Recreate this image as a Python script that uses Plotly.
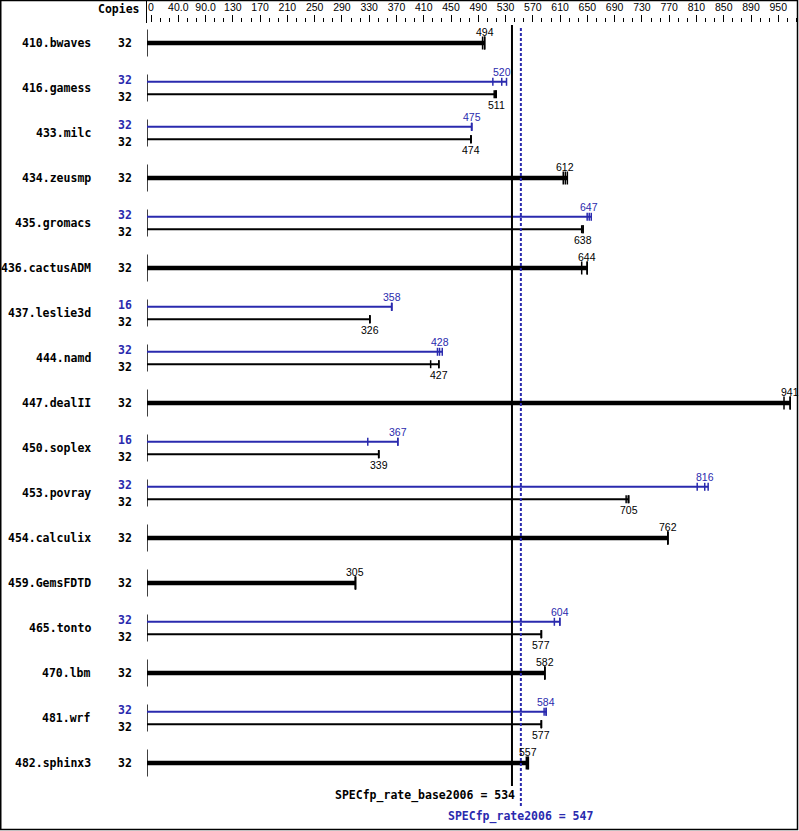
import plotly.graph_objects as go

# ---------------- data ----------------
benchmarks = ["410.bwaves", "416.gamess", "433.milc", "434.zeusmp", "435.gromacs",
              "436.cactusADM", "437.leslie3d", "444.namd", "447.dealII", "450.soplex",
              "453.povray", "454.calculix", "459.GemsFDTD", "465.tonto", "470.lbm",
              "481.wrf", "482.sphinx3"]
base_copies = [32, 32, 32, 32, 32, 32, 32, 32, 32, 32, 32, 32, 32, 32, 32, 32, 32]
peak_copies = [None, 32, 32, None, 32, None, 16, 32, None, 16, 32, None, None, 32, None, 32, None]
base_ratio = [494, 511, 474, 612, 638, 644, 326, 427, 941, 339, 705, 762, 305, 577, 582, 577, 557]
peak_ratio = [None, 520, 475, None, 647, None, 358, 428, None, 367, 816, None, None, 604, None, 584, None]
base_runs = [[491, 494, 494], [508, 510, 511], [474, 474, 474], [609, 612, 615],
             [636, 638, 638], [636, 644, 644], [326, 326, 326], [415, 427, 427],
             [932, 941, 941], [339, 339, 339], [701, 704, 705], [762, 762, 762],
             [305, 305, 305], [577, 577, 577], [582, 582, 582], [577, 577, 577],
             [555, 557, 558]]
peak_runs = [None, [506, 519, 526], [475, 475, 475], None, [644, 647, 650], None,
             [358, 358, 358], [425, 428, 432], None, [323, 367, 367], [805, 816, 821],
             None, None, [596, 604, 604], None, [581, 584, 584], None]
tick_values = [5.9, 45.8, 85.7, 125.6, 165.5, 205.4, 245.3, 285.2, 325.1, 365.0, 404.9,
               444.8, 484.7, 524.6, 564.5, 604.4, 644.3, 684.2, 724.1, 764.0, 803.9,
               843.8, 883.7, 923.6]
tick_labels = ["0", "40.0", "90.0", "130", "170", "210", "250", "290", "330", "370", "410",
               "450", "490", "530", "570", "610", "650", "690", "730", "770", "810",
               "850", "890", "950"]
base_score = 534
peak_score = 547
base_metric = "SPECfp_rate_base2006"
peak_metric = "SPECfp_rate2006"

# ---------------- layout geometry ----------------
W, H = 799, 831
L, R, T, B = 147, 2, 23, 1
PLOT_W = W - L - R
PLOT_H = H - T - B
ROW0_PX = 43      # pixel centre of first row
ROW_PX = 45       # pixels per row
XMAX = 951.0


def ypx(py):
    """pixel y -> data y (row units)"""
    return (py - ROW0_PX) / ROW_PX


def px_x(px):
    return (px - L) / PLOT_W


def px_y(py):
    return 1 - (py - T) / PLOT_H


BLUE = "#2a2aae"
BLACK = "#000000"
OFF = 6.2 / ROW_PX

fig = go.Figure()

thick_x, thick_y = [], []
thick_tx, thick_ty = [], []
base_x, base_y, base_tx, base_ty = [], [], [], []
peak_x, peak_y, peak_tx, peak_ty = [], [], [], []
sep_x, sep_y = [], []
annotations = []

mono = "DejaVu Sans Mono"
num_font = "Liberation Sans"

for i, name in enumerate(benchmarks):
    sep_x += [0, 0, None]
    sep_y += [i - 13.5 / ROW_PX, i + 13.5 / ROW_PX, None]
    annotations.append(dict(x=px_x(93), xref="paper", y=i, yref="y", text="<b>%s</b>" % name,
                            xanchor="right", yanchor="middle", showarrow=False,
                            font=dict(family=mono, size=11.5, color=BLACK)))
    if peak_ratio[i] is None:
        runs = base_runs[i]
        thick_x += [0, max(runs), None]
        thick_y += [i, i, None]
        for r in runs:
            thick_tx += [r, r, None]
            thick_ty += [i - 6.5 / ROW_PX, i + 6.5 / ROW_PX, None]
        annotations.append(dict(x=px_x(125), xref="paper", y=i, yref="y",
                                text="<b>%d</b>" % base_copies[i], xanchor="center",
                                yanchor="middle", showarrow=False,
                                font=dict(family=mono, size=11.5, color=BLACK)))
        annotations.append(dict(x=base_ratio[i], xref="x", y=i, yref="y", text=str(base_ratio[i]),
                                xanchor="center", yanchor="middle", yshift=11, showarrow=False,
                                font=dict(family=num_font, size=10.5, color=BLACK)))
    else:
        yp = i - OFF
        yb = i + OFF
        pr = peak_runs[i]
        br = base_runs[i]
        peak_x += [0, max(pr), None]
        peak_y += [yp, yp, None]
        base_x += [0, max(br), None]
        base_y += [yb, yb, None]
        for r in pr:
            peak_tx += [r, r, None]
            peak_ty += [yp - 4 / ROW_PX, yp + 4 / ROW_PX, None]
        for r in br:
            base_tx += [r, r, None]
            base_ty += [yb - 4 / ROW_PX, yb + 4 / ROW_PX, None]
        annotations.append(dict(x=px_x(125), xref="paper", y=yp, yref="y",
                                text="<b>%d</b>" % peak_copies[i], xanchor="center",
                                yanchor="middle", yshift=2, showarrow=False,
                                font=dict(family=mono, size=11.5, color=BLUE)))
        annotations.append(dict(x=px_x(125), xref="paper", y=yb, yref="y",
                                text="<b>%d</b>" % base_copies[i], xanchor="center",
                                yanchor="middle", yshift=-3, showarrow=False,
                                font=dict(family=mono, size=11.5, color=BLACK)))
        annotations.append(dict(x=peak_ratio[i], xref="x", y=yp, yref="y", text=str(peak_ratio[i]),
                                xanchor="center", yanchor="middle", yshift=10, showarrow=False,
                                font=dict(family=num_font, size=10.5, color=BLUE)))
        annotations.append(dict(x=base_ratio[i], xref="x", y=yb, yref="y", text=str(base_ratio[i]),
                                xanchor="center", yanchor="middle", yshift=-11, showarrow=False,
                                font=dict(family=num_font, size=10.5, color=BLACK)))

line_traces = [
    (sep_x, sep_y, BLACK, 1.5),
    (thick_x, thick_y, BLACK, 4.5),
    (thick_tx, thick_ty, BLACK, 1.5),
    (peak_x, peak_y, BLUE, 2),
    (peak_tx, peak_ty, BLUE, 1.5),
    (base_x, base_y, BLACK, 2),
    (base_tx, base_ty, BLACK, 1.5),
]
for xs, ys, col, w in line_traces:
    fig.add_trace(go.Scatter(x=xs, y=ys, mode="lines", line=dict(color=col, width=w),
                             hoverinfo="skip", showlegend=False, cliponaxis=False))

shapes = [
    # overall metric lines
    dict(type="line", xref="x", yref="y", x0=base_score, x1=base_score,
         y0=ypx(25), y1=ypx(786), line=dict(color=BLACK, width=2)),
    dict(type="line", xref="x", yref="y", x0=peak_score, x1=peak_score,
         y0=ypx(28), y1=ypx(808), line=dict(color=BLUE, width=2, dash="3px,2px")),
    # header separator
    dict(type="line", xref="paper", yref="paper", x0=px_x(146.5), x1=px_x(146.5),
         y0=px_y(0), y1=px_y(23), line=dict(color=BLACK, width=1)),
    # border
    dict(type="rect", xref="paper", yref="paper", x0=px_x(0.75), x1=px_x(797.5),
         y0=px_y(0.5), y1=px_y(829.5), line=dict(color=BLACK, width=1.5)),
]

annotations.append(dict(x=px_x(142), xref="paper", y=px_y(9), yref="paper", text="<b>Copies</b>",
                        xanchor="right", yanchor="middle", showarrow=False,
                        font=dict(family=mono, size=11.5, color=BLACK)))
annotations.append(dict(x=peak_score, xref="x", y=ypx(795.5), yref="y",
                        text="<b>%s = %d</b>" % (base_metric, base_score),
                        xanchor="right", yanchor="middle", xshift=-4, showarrow=False,
                        font=dict(family=mono, size=11.5, color=BLACK)))
annotations.append(dict(x=peak_score, xref="x", y=ypx(816.5), yref="y",
                        text="<b>%s = %d</b>" % (peak_metric, peak_score),
                        xanchor="center", yanchor="middle", showarrow=False,
                        font=dict(family=mono, size=11.5, color=BLUE)))

fig.update_layout(
    width=W, height=H,
    margin=dict(l=L, r=R, t=T, b=B, pad=0),
    paper_bgcolor="white", plot_bgcolor="white",
    shapes=shapes, annotations=annotations,
    xaxis=dict(side="top", range=[0, XMAX], showgrid=False, zeroline=False, showline=False,
               tickmode="array", tickvals=tick_values, ticktext=tick_labels,
               ticks="outside", ticklen=7, tickwidth=1, tickcolor=BLACK,
               tickfont=dict(family=num_font, size=10.5, color=BLACK),
               minor=dict(tick0=5.9, dtick=13.3, ticks="outside", ticklen=4,
                          tickwidth=1, tickcolor=BLACK, showgrid=False),
               fixedrange=True),
    yaxis=dict(range=[ypx(H - B), ypx(T)], visible=False, fixedrange=True),
    showlegend=False,
)

fig.write_html("out.html",
               config={"displayModeBar": False, "staticPlot": True},
               post_script="document.body.style.margin='0px';document.body.style.overflow='hidden';")
